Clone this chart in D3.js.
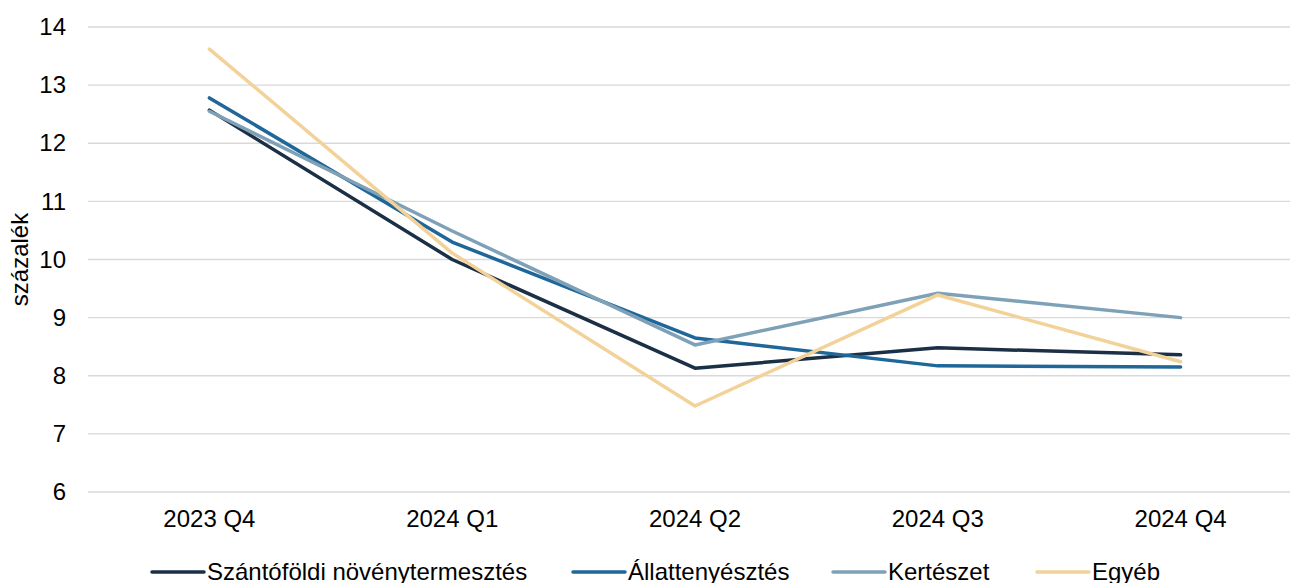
<!DOCTYPE html>
<html>
<head>
<meta charset="utf-8">
<script src="https://cdn.jsdelivr.net/npm/d3@7"></script>
<style>
  body { margin: 0; background: #fff; }
  svg { display: block; font-family: Arial, "Liberation Sans", sans-serif; }
</style>
</head>
<body>
<svg id="chart"></svg>
<script>
// categories and series
const categories = ['2023 Q4', '2024 Q1', '2024 Q2', '2024 Q3', '2024 Q4'];
const szantofoldi = [12.57, 10.0, 8.13, 8.48, 8.36];
const allattenyesztes = [12.78, 10.30, 8.65, 8.17, 8.15];
const kerteszet = [12.55, 10.49, 8.53, 9.42, 9.0];
const egyeb = [13.62, 10.11, 7.48, 9.39, 8.24];
const yTicks = [6, 7, 8, 9, 10, 11, 12, 13, 14];

const series = [
    {name: 'Szántóföldi növénytermesztés', values: szantofoldi, color: '#1b2f45'},
    {name: 'Állattenyésztés', values: allattenyesztes, color: '#1f6699'},
    {name: 'Kertészet', values: kerteszet, color: '#7fa1b8'},
    {name: 'Egyéb', values: egyeb, color: '#f2d298'}
];

const width = 1290, height = 583;
const margin = {top: 27, right: -12, bottom: 91, left: 88};
const fontSize = 24;

const svg = d3.select('#chart')
    .attr('width', width)
    .attr('height', height);

const xScale = d3.scaleBand()
    .domain(categories)
    .range([margin.left, width - margin.right])
    .padding(0);

const yScale = d3.scaleLinear()
    .domain([6, 14])
    .range([height - margin.bottom, margin.top]);

// gridlines
svg.append('g')
    .selectAll('line')
    .data(yTicks)
    .join('line')
    .attr('x1', margin.left)
    .attr('x2', width - margin.right)
    .attr('y1', d => yScale(d))
    .attr('y2', d => yScale(d))
    .attr('stroke', '#d9d9d9')
    .attr('stroke-width', 1.3);

// y axis
const yAxis = d3.axisLeft(yScale)
    .tickValues(yTicks)
    .tickSize(0)
    .tickPadding(22);

svg.append('g')
    .attr('transform', `translate(${margin.left},0)`)
    .call(yAxis)
    .call(g => g.select('.domain').remove())
    .selectAll('text')
    .attr('font-size', fontSize)
    .attr('fill', '#000');

// x axis
const xAxis = d3.axisBottom(xScale)
    .tickSize(0)
    .tickPadding(18);

svg.append('g')
    .attr('transform', `translate(0,${height - margin.bottom})`)
    .call(xAxis)
    .call(g => g.select('.domain').remove())
    .selectAll('text')
    .attr('font-size', fontSize)
    .attr('fill', '#000');

// axis title
svg.append('text')
    .attr('transform', `translate(28,${yScale(10)}) rotate(-90)`)
    .attr('text-anchor', 'middle')
    .attr('font-size', fontSize)
    .text('százalék');

// lines
const line = d3.line()
    .x((d, i) => xScale(categories[i]) + xScale.bandwidth() / 2)
    .y(d => yScale(d));

svg.append('g')
    .selectAll('path')
    .data(series)
    .join('path')
    .attr('fill', 'none')
    .attr('stroke', d => d.color)
    .attr('stroke-width', 3.5)
    .attr('stroke-linejoin', 'round')
    .attr('stroke-linecap', 'round')
    .attr('d', d => line(d.values));

// legend
const legendX = [152, 573, 833, 1037];
const legend = svg.append('g')
    .selectAll('g')
    .data(series)
    .join('g')
    .attr('transform', (d, i) => `translate(${legendX[i]},572)`);

legend.append('line')
    .attr('x1', 0)
    .attr('x2', 52)
    .attr('stroke', d => d.color)
    .attr('stroke-width', 3.5)
    .attr('stroke-linecap', 'round');

legend.append('text')
    .attr('x', 55)
    .attr('dy', '0.35em')
    .attr('font-size', fontSize)
    .text(d => d.name);
</script>
</body>
</html>
